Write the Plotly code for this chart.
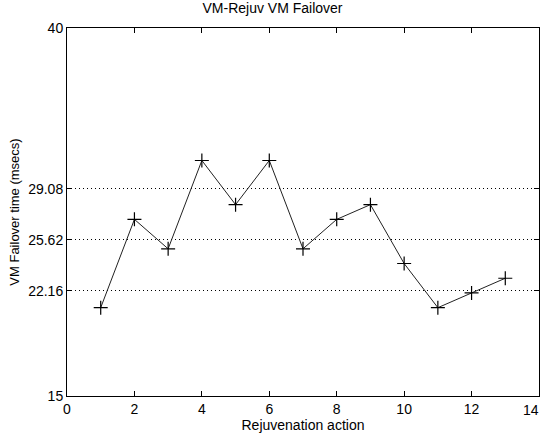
import plotly.graph_objects as go

actions = list(range(1, 14))
failover_ms = [21, 27, 25, 31, 28, 31, 25, 27, 28, 24, 21, 22, 23]
y_ticks = [15, 22.16, 25.62, 29.08, 40]
y_tick_labels = ["15", "22.16", "25.62", "29.08", "40"]
x_ticks = [0, 2, 4, 6, 8, 10, 12, 14]
x_tick_labels = [str(v) for v in x_ticks]

ff = "Liberation Sans, Arial, sans-serif"

fig = go.Figure()
fig.add_trace(go.Scatter(
    x=actions, y=failover_ms, mode="lines+markers",
    line=dict(color="#222222", width=1),
    marker=dict(symbol="cross-thin", size=10, line=dict(color="black", width=1.2)),
    showlegend=False,
))

# last x tick label is right-aligned to its tick (as in the original) so it stays inside the page
fig.add_annotation(x=x_ticks[-1], xref="x", y=0, yref="paper", text=x_tick_labels[-1],
                   showarrow=False, xanchor="right", yanchor="top", yshift=-4, xshift=2,
                   font=dict(size=14, family=ff, color="black"))

font = dict(family=ff, size=14, color="black")
fig.update_layout(
    width=545, height=440,
    margin=dict(l=67, r=6, t=28, b=44),
    paper_bgcolor="white", plot_bgcolor="white",
    font=font,
    title=dict(text="VM-Rejuv VM Failover", x=0.5, xanchor="center", y=0.993, yanchor="top",
               font=dict(size=14, color="black", family=ff)),
    xaxis=dict(range=[0, 14], tickvals=x_ticks, ticktext=x_tick_labels[:-1] + [""],
               ticks="inside", ticklen=5, tickcolor="black",
               showline=True, linecolor="black", linewidth=1, mirror="allticks",
               showgrid=False, zeroline=False, automargin=False,
               title=dict(text="Rejuvenation action", standoff=1,
                          font=dict(size=14, family=ff, color="black"))),
    yaxis=dict(range=[15, 40], tickvals=y_ticks, ticktext=y_tick_labels, ticks="inside",
               ticklen=5, tickcolor="black",
               showline=True, linecolor="black", linewidth=1, mirror="allticks",
               showgrid=True, gridcolor="black", griddash="1px,3px", gridwidth=1,
               zeroline=False, automargin=False, ticklabeloverflow="allow",
               title=dict(text="VM Failover time (msecs)", standoff=5,
                          font=dict(size=13, family=ff, color="black"))),
)
fig.write_html("out.html", config={"displayModeBar": False},
               post_script="document.body.style.margin='0';document.body.style.overflow='hidden';")
